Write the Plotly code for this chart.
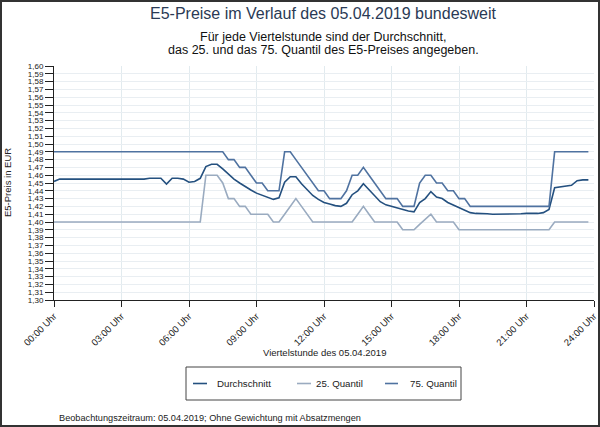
import plotly.graph_objects as go

# ---------------- data (quarter-hour values) ----------------
quarter_labels = [f"{h:02d}:{m:02d}" for h in range(24) for m in (0, 15, 30, 45)]

durchschnitt = [
    1.452, 1.455, 1.455, 1.455, 1.455, 1.455, 1.455, 1.455,
    1.455, 1.455, 1.455, 1.455, 1.455, 1.455, 1.455, 1.455,
    1.455, 1.456, 1.456, 1.456, 1.4485, 1.456, 1.456, 1.455,
    1.451, 1.452, 1.456, 1.471, 1.474, 1.474, 1.468, 1.461,
    1.455, 1.450, 1.445, 1.441, 1.437, 1.434, 1.431, 1.429,
    1.431, 1.451, 1.458, 1.458, 1.449, 1.441, 1.434, 1.429,
    1.425, 1.423, 1.421, 1.420, 1.424, 1.435, 1.440, 1.449,
    1.441, 1.433, 1.426, 1.422, 1.420, 1.418, 1.416, 1.414,
    1.413, 1.425, 1.430, 1.439, 1.432, 1.430, 1.425, 1.422,
    1.418, 1.415, 1.412, 1.411, 1.411, 1.4105, 1.410, 1.410,
    1.410, 1.410, 1.4105, 1.4105, 1.411, 1.411, 1.411, 1.412,
    1.416, 1.444, 1.445, 1.446, 1.447, 1.453, 1.454, 1.454,
]

quantil_25 = (
    [1.40] * 27
    + [1.46, 1.46, 1.46, 1.45, 1.43, 1.43, 1.42, 1.42, 1.41, 1.41, 1.41, 1.41,
       1.40, 1.40, 1.41, 1.42, 1.43, 1.42, 1.41, 1.40]
    + [1.40] * 6
    + [1.40, 1.41, 1.42, 1.41, 1.40]
    + [1.40] * 4
    + [1.39, 1.39, 1.39, 1.397, 1.403, 1.41, 1.40, 1.40, 1.40, 1.40]
    + [1.39] * 17
    + [1.40] * 7
)

quantil_75 = (
    [1.49] * 31
    + [1.48, 1.48, 1.47, 1.47, 1.46, 1.45, 1.45, 1.44, 1.44, 1.44,
       1.49, 1.49, 1.48, 1.47, 1.46, 1.45, 1.44, 1.44, 1.43, 1.43, 1.43,
       1.44, 1.46, 1.46, 1.47, 1.46, 1.45, 1.44, 1.43, 1.43, 1.43,
       1.42, 1.42, 1.42, 1.45, 1.46, 1.46, 1.45, 1.45, 1.44, 1.44,
       1.43, 1.43, 1.42]
    + [1.42] * 14
    + [1.49] * 7
)

x_tick_vals = [0, 3, 6, 9, 12, 15, 18, 21, 24]
x_tick_text = ["00:00 Uhr", "03:00 Uhr", "06:00 Uhr", "09:00 Uhr", "12:00 Uhr",
               "15:00 Uhr", "18:00 Uhr", "21:00 Uhr", "24:00 Uhr"]

series_names = ["Durchschnitt", "25. Quantil", "75. Quantil"]
series_colors = ["#24507f", "#9aabc0", "#4f72a0"]

# x position in hours derived from the quarter-hour labels
hours = [int(t[:2]) + int(t[3:]) / 60 for t in quarter_labels]

# ---------------- figure ----------------
FONT = "Liberation Sans, Arial, sans-serif"
W, H = 600, 427
L, R, T, B = 54, 6, 66, 127
PW, PH = W - L - R, H - T - B


def px(x):
    return (x - L) / PW


def py(y):
    return (H - B - y) / PH


fig = go.Figure()
for name, vals, col in zip(series_names, [durchschnitt, quantil_25, quantil_75], series_colors):
    fig.add_trace(go.Scatter(x=hours, y=vals, mode="lines", name=name,
                             line=dict(color=col, width=1.6), showlegend=False))

fig.update_layout(
    width=W, height=H,
    margin=dict(l=L, r=R, t=T, b=B, autoexpand=False),
    paper_bgcolor="white", plot_bgcolor="white",
    separators=",.",
    font=dict(family=FONT, color="#222222"),
    xaxis=dict(range=[0, 24], tickvals=x_tick_vals, ticktext=x_tick_text,
               tickangle=-45, tickfont=dict(size=9.5, color="#222"),
               ticks="outside", ticklen=6, tickcolor="#222",
               showline=True, linecolor="#222", linewidth=1,
               showgrid=True, gridcolor="#e2ebef", gridwidth=1, zeroline=False),
    yaxis=dict(range=[1.30, 1.60], dtick=0.01, tick0=1.30, tickformat=".2f",
               tickfont=dict(size=8, color="#222"),
               ticks="outside", ticklen=8, tickcolor="#222",
               showline=True, linecolor="#222", linewidth=1,
               showgrid=True, gridcolor="#e9eef2", gridwidth=1, zeroline=False),
)

annotations = [
    dict(text="E5-Preise im Verlauf des 05.04.2019 bundesweit", x=px(323), y=py(14),
         font=dict(size=16, color="#2a3a55")),
    dict(text="Für jede Viertelstunde sind der Durchschnitt,", x=px(323), y=py(37),
         font=dict(size=12.5, color="#111")),
    dict(text="das 25. und das 75. Quantil des E5-Preises angegeben.", x=px(323), y=py(49.5),
         font=dict(size=12.5, color="#111")),
    dict(text="E5-Preis in EUR", x=px(7), y=py(183), textangle=-90,
         font=dict(size=9.5, color="#222")),
    dict(text="Viertelstunde des 05.04.2019", x=px(324), y=py(352),
         font=dict(size=9.5, color="#222")),
    dict(text="Beobachtungszeitraum: 05.04.2019; Ohne Gewichtung mit Absatzmengen",
         x=px(57), y=py(417.5), xanchor="left", font=dict(size=9.2, color="#222")),
]

# legend (drawn box with line samples and labels)
shapes = [
    dict(type="rect", xref="paper", yref="paper", x0=px(1), x1=px(599), y0=py(1), y1=py(426),
         line=dict(color="#333", width=2)),
    dict(type="rect", xref="paper", yref="paper", x0=px(186), x1=px(461), y0=py(367), y1=py(400),
         line=dict(color="#444", width=1)),
]
leg_sym = [(193, 207), (297, 311), (385, 398)]
leg_txt = [215, 314, 408]
for (a, b), tx, name, col in zip(leg_sym, leg_txt, series_names, series_colors):
    shapes.append(dict(type="line", xref="paper", yref="paper", x0=px(a), x1=px(b),
                       y0=py(383.5), y1=py(383.5), line=dict(color=col, width=1.6)))
    annotations.append(dict(text=name, x=px(tx), y=py(383.5), xanchor="left",
                            font=dict(size=9.7, color="#222")))

for a in annotations:
    a.setdefault("xref", "paper")
    a.setdefault("yref", "paper")
    a.setdefault("xanchor", "center")
    a.setdefault("yanchor", "middle")
    a["showarrow"] = False

fig.update_layout(annotations=annotations, shapes=shapes)

fig.write_html("out.html", config={"displayModeBar": False},
               post_script="document.body.style.margin='0px';")
